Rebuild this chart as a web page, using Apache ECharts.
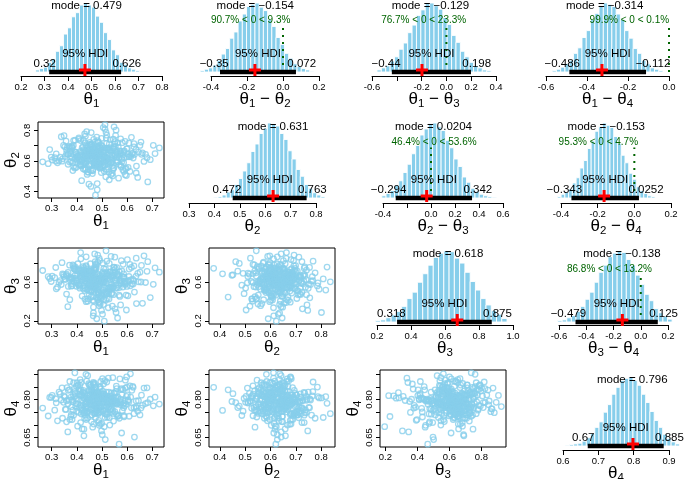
<!DOCTYPE html>
<html><head><meta charset="utf-8">
<script src="https://cdn.jsdelivr.net/npm/echarts@6/dist/echarts.min.js"></script>
<style>html,body{margin:0;padding:0;background:#fff}#c{width:685px;height:479px}</style>
</head><body><div id="c"></div>
<script>
// ---------- posterior samples (scatter panels) ----------
const theta1 = [0.452,0.518,0.391,0.476,0.563,0.437,0.502,0.611,0.468,0.349,0.489,0.531,
0.414,0.577,0.459,0.383,0.506,0.642,0.471,0.428,0.545,0.497,0.366,0.483,
0.521,0.445,0.598,0.403,0.474,0.556,0.312,0.491,0.437,0.629,0.462,0.508,
0.387,0.539,0.466,0.574,0.421,0.499,0.682,0.448,0.357,0.515,0.472,0.593,
0.433,0.487,0.551,0.298,0.463,0.526,0.409,0.617,0.479,0.376,0.542,0.455,
0.501,0.418,0.568,0.484,0.341,0.533,0.446,0.661,0.392,0.512,0.469,0.587,
0.427,0.495,0.604,0.458,0.371,0.524,0.481,0.439,0.552,0.286,0.507,0.463,
0.548,0.401,0.476,0.636,0.442,0.517,0.365,0.493,0.578,0.425,0.704,0.468,
0.511,0.396,0.457,0.562,0.487,0.334,0.529,0.443,0.607,0.472,0.415,0.538,
0.461,0.583,0.378,0.502,0.449,0.655,0.421,0.494,0.547,0.318,0.476,0.519,
0.406,0.565,0.484,0.438,0.592,0.359,0.513,0.467,0.536,0.412,0.728,0.489,
0.453,0.522,0.384,0.571,0.496,0.431,0.619,0.477,0.352,0.509,0.448,0.557,
0.264,0.482,0.539,0.418,0.601,0.466,0.395,0.528,0.459,0.673,0.436,0.505,
0.574,0.441,0.493,0.369,0.546,0.472,0.627,0.404,0.515,0.458,0.329,0.498,
0.534,0.426,0.588,0.479,0.387,0.552,0.444,0.509,0.645,0.416,0.486,0.561,
0.399,0.474,0.527,0.302,0.491,0.569,0.451,0.413,0.596,0.469,0.538,0.382,
0.503,0.456,0.614,0.428,0.541,0.361,0.487,0.579,0.434,0.692,0.471,0.516,
0.447,0.558,0.393,0.488,0.622,0.419,0.531,0.465,0.347,0.505,0.584,0.439,
0.475,0.372,0.543,0.491,0.608,0.424,0.518,0.456,0.667,0.381,0.497,0.553,
0.432,0.586,0.463,0.525,0.408,0.481,0.635,0.449,0.316,0.512,0.571,0.468,
0.488,0.431,0.553,0.467,0.392,0.521,0.446,0.599,0.473,0.508,0.359,0.536,
0.462,0.419,0.574,0.495,0.438,0.627,0.481,0.403,0.547,0.456,0.514,0.377,
0.529,0.471,0.412,0.589,0.443,0.501,0.338,0.559,0.484,0.427,0.651,0.466,
0.397,0.543,0.478,0.516,0.429,0.603,0.455,0.372,0.532,0.489,0.447,0.581,
0.507,0.434,0.566,0.292,0.476,0.523,0.415,0.498,0.637,0.452,0.389,0.545,
0.469,0.527,0.421,0.592,0.483,0.354,0.511,0.441,0.562,0.496,0.408,0.679,
0.458,0.537,0.386,0.474,0.613,0.432,0.519,0.464,0.548,0.323,0.492,0.437,
0.576,0.449,0.504,0.417,0.558,0.481,0.364,0.533,0.471,0.624,0.426,0.512,
0.445,0.587,0.491,0.398,0.526,0.463,0.343,0.554,0.478,0.711,0.436,0.502,
0.569,0.411,0.485,0.541,0.454,0.379,0.597,0.467,0.518,0.425,0.483,0.657];
const theta2 = [0.612,0.684,0.553,0.641,0.718,0.597,0.659,0.531,0.628,0.765,0.603,0.672,
0.574,0.651,0.707,0.589,0.636,0.492,0.667,0.618,0.742,0.562,0.645,0.693,
0.608,0.526,0.679,0.633,0.586,0.801,0.621,0.556,0.699,0.642,0.517,0.664,
0.733,0.594,0.648,0.571,0.687,0.614,0.463,0.656,0.729,0.601,0.632,0.547,
0.668,0.583,0.712,0.625,0.539,0.676,0.609,0.754,0.591,0.647,0.502,0.637,
0.697,0.566,0.621,0.683,0.598,0.738,0.544,0.653,0.612,0.836,0.575,0.661,
0.629,0.704,0.558,0.644,0.593,0.677,0.411,0.617,0.726,0.582,0.649,0.535,
0.688,0.604,0.657,0.521,0.632,0.749,0.578,0.669,0.613,0.548,0.702,0.639,
0.571,0.654,0.785,0.596,0.678,0.624,0.477,0.642,0.716,0.587,0.663,0.609,
0.658,0.542,0.694,0.631,0.567,0.723,0.605,0.681,0.554,0.646,0.598,0.768,
0.616,0.689,0.573,0.652,0.509,0.671,0.627,0.741,0.589,0.636,0.685,0.561,
0.703,0.619,0.537,0.666,0.602,0.776,0.648,0.581,0.692,0.623,0.448,0.655,
0.594,0.732,0.638,0.569,0.681,0.611,0.657,0.528,0.706,0.643,0.584,0.818,
0.662,0.607,0.551,0.695,0.634,0.579,0.713,0.626,0.496,0.668,0.601,0.747,
0.586,0.673,0.619,0.755,0.563,0.644,0.698,0.532,0.657,0.612,0.724,0.593,
0.645,0.376,0.684,0.606,0.662,0.576,0.721,0.635,0.552,0.679,0.617,0.694,
0.571,0.708,0.628,0.659,0.519,0.687,0.642,0.595,0.762,0.608,0.653,0.544,
0.676,0.623,0.735,0.582,0.649,0.471,0.667,0.613,0.701,0.558,0.639,0.792,
0.601,0.664,0.543,0.691,0.627,0.574,0.715,0.651,0.597,0.683,0.524,0.636,
0.718,0.589,0.656,0.612,0.742,0.567,0.674,0.631,0.599,0.808,0.646,0.585,
0.634,0.581,0.697,0.612,0.659,0.546,0.673,0.627,0.724,0.593,0.648,0.511,
0.667,0.603,0.744,0.585,0.639,0.692,0.561,0.619,0.682,0.433,0.656,0.598,
0.711,0.642,0.576,0.665,0.529,0.627,0.758,0.604,0.653,0.587,0.701,0.636,
0.557,0.679,0.614,0.787,0.592,0.645,0.538,0.688,0.623,0.662,0.574,0.719,
0.608,0.651,0.487,0.674,0.632,0.589,0.733,0.617,0.566,0.695,0.641,0.553,
0.684,0.596,0.658,0.728,0.573,0.629,0.672,0.512,0.646,0.605,0.751,0.621,
0.579,0.663,0.701,0.594,0.637,0.543,0.678,0.616,0.823,0.588,0.654,0.627,
0.562,0.709,0.631,0.598,0.668,0.452,0.642,0.687,0.577,0.619,0.736,0.604,
0.655,0.531,0.691,0.626,0.583,0.671,0.614,0.767,0.596,0.648,0.549,0.682,
0.639,0.601,0.719,0.567,0.658,0.623,0.504,0.676,0.611,0.694,0.586,0.643];
const theta3 = [0.612,0.487,0.735,0.563,0.671,0.398,0.624,0.784,0.541,0.658,0.452,0.706,
0.579,0.823,0.513,0.645,0.369,0.692,0.597,0.748,0.471,0.633,0.556,0.881,
0.664,0.427,0.601,0.719,0.532,0.286,0.647,0.587,0.771,0.498,0.683,0.618,
0.745,0.556,0.341,0.629,0.697,0.474,0.812,0.593,0.668,0.412,0.726,0.575,
0.638,0.523,0.859,0.607,0.449,0.676,0.568,0.753,0.221,0.652,0.539,0.712,
0.587,0.694,0.465,0.621,0.802,0.547,0.663,0.381,0.737,0.604,0.516,0.649,
0.728,0.431,0.615,0.569,0.776,0.508,0.687,0.633,0.324,0.658,0.741,0.554,
0.672,0.593,0.487,0.849,0.628,0.536,0.701,0.443,0.611,0.762,0.578,0.405,
0.641,0.722,0.561,0.684,0.393,0.617,0.794,0.524,0.659,0.582,0.907,0.478,
0.695,0.549,0.637,0.268,0.711,0.602,0.456,0.669,0.753,0.531,0.625,0.818,
0.573,0.661,0.418,0.738,0.594,0.683,0.502,0.626,0.867,0.557,0.704,0.357,
0.648,0.527,0.779,0.613,0.462,0.697,0.583,0.742,0.635,0.196,0.672,0.544,
0.721,0.608,0.489,0.656,0.834,0.571,0.639,0.426,0.714,0.597,0.761,0.518,
0.586,0.679,0.374,0.644,0.725,0.553,0.617,0.791,0.481,0.665,0.598,0.307,
0.703,0.562,0.651,0.438,0.768,0.627,0.534,0.689,0.604,0.842,0.496,0.678,
0.615,0.744,0.541,0.663,0.389,0.708,0.589,0.653,0.467,0.731,0.576,0.638,
0.797,0.506,0.624,0.691,0.352,0.667,0.558,0.716,0.611,0.441,0.684,0.925,
0.568,0.642,0.759,0.493,0.631,0.714,0.547,0.252,0.676,0.603,0.785,0.528,
0.657,0.419,0.698,0.581,0.736,0.622,0.476,0.649,0.873,0.564,0.609,0.702,
0.539,0.687,0.607,0.335,0.724,0.592,0.661,0.511,0.752,0.634,0.453,0.671,
0.627,0.514,0.743,0.589,0.668,0.432,0.701,0.556,0.812,0.603,0.477,0.659,
0.571,0.726,0.364,0.641,0.594,0.768,0.528,0.682,0.617,0.446,0.735,0.559,
0.662,0.893,0.538,0.611,0.403,0.689,0.576,0.751,0.497,0.633,0.704,0.282,
0.615,0.547,0.779,0.592,0.671,0.459,0.718,0.624,0.533,0.846,0.587,0.652,
0.416,0.697,0.569,0.638,0.762,0.505,0.681,0.599,0.378,0.724,0.613,0.552,
0.741,0.486,0.658,0.583,0.807,0.627,0.541,0.694,0.229,0.646,0.578,0.713,
0.519,0.672,0.604,0.786,0.563,0.425,0.688,0.634,0.757,0.548,0.619,0.863,
0.592,0.469,0.707,0.651,0.537,0.676,0.346,0.628,0.733,0.581,0.664,0.491,
0.709,0.597,0.824,0.558,0.643,0.412,0.685,0.616,0.526,0.749,0.603,0.667,
0.544,0.728,0.473,0.639,0.791,0.585,0.312,0.656,0.698,0.534,0.622,0.774];
const theta4 = [0.795,0.742,0.831,0.768,0.809,0.721,0.787,0.854,0.763,0.814,0.698,0.801,
0.776,0.843,0.739,0.792,0.861,0.754,0.818,0.683,0.797,0.771,0.836,0.748,
0.813,0.765,0.889,0.782,0.729,0.806,0.758,0.847,0.791,0.652,0.824,0.774,
0.738,0.802,0.867,0.779,0.817,0.706,0.788,0.833,0.761,0.799,0.745,0.876,
0.784,0.827,0.752,0.808,0.691,0.796,0.842,0.767,0.815,0.733,0.789,0.858,
0.772,0.819,0.624,0.793,0.846,0.759,0.804,0.777,0.905,0.744,0.811,0.785,
0.826,0.751,0.798,0.713,0.839,0.781,0.757,0.872,0.796,0.735,0.821,0.769,
0.807,0.866,0.762,0.794,0.727,0.829,0.783,0.851,0.668,0.812,0.775,0.838,
0.756,0.803,0.849,0.786,0.718,0.822,0.774,0.894,0.791,0.747,0.816,0.764,
0.834,0.779,0.741,0.805,0.857,0.766,0.797,0.703,0.825,0.787,0.753,0.869,
0.798,0.736,0.823,0.771,0.845,0.795,0.642,0.812,0.763,0.832,0.782,0.749,
0.817,0.788,0.758,0.881,0.801,0.726,0.836,0.778,0.809,0.693,0.792,0.853,
0.766,0.828,0.794,0.743,0.818,0.862,0.773,0.806,0.739,0.784,0.899,0.811,
0.789,0.752,0.841,0.797,0.715,0.824,0.768,0.857,0.804,0.761,0.829,0.676,
0.813,0.776,0.732,0.802,0.866,0.787,0.748,0.821,0.795,0.837,0.709,0.783,
0.753,0.848,0.791,0.816,0.769,0.726,0.807,0.878,0.781,0.745,0.826,0.799,
0.833,0.764,0.809,0.657,0.792,0.847,0.775,0.819,0.738,0.801,0.863,0.772,
0.796,0.741,0.825,0.784,0.852,0.768,0.699,0.814,0.789,0.756,0.839,0.806,
0.778,0.871,0.757,0.803,0.734,0.829,0.793,0.762,0.845,0.721,0.811,0.786,
0.822,0.767,0.797,0.884,0.749,0.815,0.771,0.838,0.803,0.729,0.794,0.857,
0.791,0.753,0.824,0.776,0.812,0.731,0.797,0.849,0.768,0.804,0.712,0.786,
0.833,0.759,0.801,0.871,0.782,0.744,0.819,0.695,0.793,0.838,0.765,0.809,
0.728,0.789,0.856,0.774,0.815,0.661,0.798,0.843,0.757,0.806,0.739,0.827,
0.784,0.886,0.763,0.811,0.748,0.795,0.834,0.721,0.802,0.779,0.862,0.756,
0.817,0.772,0.737,0.808,0.851,0.787,0.709,0.823,0.766,0.799,0.841,0.745,
0.783,0.829,0.684,0.796,0.814,0.761,0.874,0.788,0.733,0.807,0.769,0.846,
0.792,0.751,0.818,0.777,0.901,0.803,0.741,0.826,0.785,0.716,0.811,0.764,
0.839,0.794,0.758,0.867,0.781,0.823,0.672,0.805,0.772,0.848,0.747,0.797,
0.814,0.736,0.789,0.853,0.767,0.802,0.726,0.831,0.778,0.809,0.754,0.882,
0.786,0.821,0.743,0.799,0.858,0.771,0.812,0.703,0.794,0.836,0.762,0.817];

// ---------- histogram bin heights ----------
const t1Counts  = [3,5,7,14,19,30,38,55,64,80,86,97,100,97,94,81,72,57,47,32,25,14,11,6,4,2,1,1];
const d12Counts = [2,4,6,10,17,26,34,49,58,74,84,95,98,100,94,89,76,66,50,40,27,20,12,8,5,3,1];
const d13Counts = [3,6,9,16,22,33,42,57,68,82,90,99,100,96,91,79,69,53,43,30,22,14,9,6,3,2];
const d14Counts = [2,4,7,12,17,27,35,50,60,76,85,96,100,98,95,84,76,60,49,34,27,17,12,6,4,2];
const t2Counts  = [1,2,4,8,11,18,26,36,47,62,72,86,93,100,98,96,86,78,63,52,38,29,18,13,7,4,2];
const d23Counts = [3,6,10,17,23,34,45,59,70,84,92,99,100,95,90,77,67,52,42,28,21,13,9,5,3,2,1];
const d24Counts = [2,5,8,12,20,27,40,50,66,76,89,95,100,97,94,82,73,57,47,33,25,15,10,6,3,2];
const t3Counts  = [2,3,6,10,15,22,33,42,56,68,80,91,97,100,99,90,83,70,57,45,33,24,16,11,5];
const d34Counts = [2,3,6,9,15,22,32,42,56,70,80,92,97,100,98,88,80,66,53,39,30,19,13,8,4];
const t4Counts  = [1,2,3,4,7,12,18,27,35,49,60,75,85,95,98,100,95,88,75,63,50,37,27,17,11,6,3];
const histCounts = [t1Counts,d12Counts,d13Counts,d14Counts,t2Counts,d23Counts,d24Counts,t3Counts,d34Counts,t4Counts];
const binStart = [0.262,-0.46,-0.56,-0.57,0.398,-0.41,-0.42,0.19,-0.61,0.606];
const binWidth = [0.017,0.0234,0.0354,0.0208,0.0162,0.0353,0.0205,0.031,0.0336,0.012];
const histVars = [[1],[1,2],[1,3],[1,4],[2],[2,3],[2,4],[3],[3,4],[4]];
const modeVals = [0.479,-0.154,-0.129,-0.314,0.631,0.0204,-0.153,0.618,-0.138,0.796];
const hdiLow  = [0.32,-0.35,-0.44,-0.486,0.472,-0.294,-0.343,0.318,-0.479,0.67];
const hdiHigh = [0.626,0.072,0.198,-0.112,0.763,0.342,0.0252,0.875,0.125,0.885];
const crossVals = [0.472,-0.156,-0.197,-0.327,0.631,-0.036,-0.165,0.672,-0.135,0.798];
const pctBelowZero = [null,90.7,76.7,99.9,null,46.4,95.3,null,86.8,null];
const histTicks = [[0.2,0.3,0.4,0.5,0.6,0.7,0.8],[-0.4,-0.2,0,0.2],[-0.6,-0.4,-0.2,0,0.2,0.4],[-0.6,-0.4,-0.2,0],
  [0.3,0.4,0.5,0.6,0.7,0.8],[-0.4,-0.2,0,0.2,0.4,0.6],[-0.4,-0.2,0,0.2],[0.2,0.4,0.6,0.8,1.0],[-0.6,-0.4,-0.2,0,0.2],[0.6,0.7,0.8,0.9]];
const histTickLabels = [[0.2,0.3,0.4,0.5,0.6,0.7,0.8],[-0.4,-0.2,0,0.2],[-0.6,-0.2,0,0.2,0.4],[-0.6,-0.4,-0.2,0],
  [0.3,0.4,0.5,0.6,0.7,0.8],[-0.4,0,0.2,0.4,0.6],[-0.4,-0.2,0,0.2],[0.2,0.4,0.6,0.8,1.0],[-0.6,-0.4,-0.2,0,0.2],[0.6,0.7,0.8,0.9]];

// scatter axis ticks per parameter
const scatTicksX = {1:[0.3,0.4,0.5,0.6,0.7], 2:[0.4,0.5,0.6,0.7,0.8], 3:[0.2,0.4,0.6,0.8]};
const scatTicksY = {2:[0.4,0.5,0.6,0.7,0.8], 3:[0.2,0.4,0.6,0.8], 4:[0.65,0.70,0.75,0.80,0.85,0.90]};
const scatLabelsY = {2:[0.4,0.6,0.8], 3:[0.2,0.6], 4:[0.65,0.80]};

// ---------- layout (pixels) ----------
// [x of first tick, x of last tick, axis line y, zero line y, peak y]
const histLayout = [[21,162,76,72,3],[211,319,76,72,3],[372,496,76,72,3],[546,669,76,72,3],
  [189,316,203,198,123],[383,503,203,198,123],[561,671,203,198,123],
  [377,513,325,322,251],[559,668,325,322,251],[563,669,450,446,377]];
const scatCols = {1:[38,164],2:[209,335],3:[380,506]};
const scatRows = {2:[122,198],3:[248,324],4:[370,447]};
const samples = {1:theta1,2:theta2,3:theta3,4:theta4};

const FONT = '"Liberation Sans", Arial, Helvetica, sans-serif';
const SKY = '#87CEEB', DKGREEN = '#006400';
const ANN = 11.5, TICK = 9.5;
const mctx = document.createElement('canvas').getContext('2d');
function tw(s, size){ mctx.font = size + 'px ' + FONT; return mctx.measureText(s).width; }
function fmtNum(v){ return String(v).replace('-', '\u2212'); }
function fmtTick(v, d){ if (Math.abs(v) < 1e-9) v = 0; return v.toFixed(d); }
const nameRich = {
  t:{fontSize:17, fontFamily:FONT, color:'#000'},
  s:{fontSize:11.5, fontFamily:FONT, color:'#000', padding:[10,0,0,0]}
};
function thName(v){ return v.length === 1 ? `{t|θ}{s|${v[0]}}` : `{t|θ}{s|${v[0]}}{t| \u2212 θ}{s|${v[1]}}`; }

function txt(x, yBase, s, size, adj, color){
  const w = tw(s, size);
  return {type:'text', x: x - adj*w, y: yBase + 0.17*size,
    style:{text:s, fontSize:size, fontFamily:FONT, fill:color, align:'left', verticalAlign:'bottom'}};
}

const grids = [], xAxes = [], yAxes = [], series = [];

histCounts.forEach((counts, k) => {
  const [x0, x1, ax, zy, pk] = histLayout[k];
  const g = grids.length;
  const peak = Math.max(...counts);
  const ticks = histTicks[k];
  grids.push({left:x0, top:pk, width:x1-x0, height:ax-pk, outerBoundsMode:'none'});
  xAxes.push({gridIndex:g, type:'value', min:ticks[0], max:ticks[ticks.length-1],
    axisLine:{show:true, onZero:false, lineStyle:{color:'#000', width:1}},
    axisTick:{show:true, length:5, customValues:ticks, lineStyle:{color:'#000'}},
    axisLabel:{customValues:histTickLabels[k], formatter:v=>fmtTick(v,1), fontSize:TICK, margin:6, color:'#000', fontFamily:FONT},
    splitLine:{show:false}, name:thName(histVars[k]), nameLocation:'middle', nameGap:12,
    nameMoveOverlap:false, nameTextStyle:{rich:nameRich}});
  yAxes.push({gridIndex:g, type:'value', show:false, min:-peak*(ax-zy)/(zy-pk), max:peak, splitLine:{show:false}});
  const bins = counts.map((c, i) => [binStart[k] + i*binWidth[k], binStart[k] + (i+1)*binWidth[k], c]);
  series.push({type:'custom', xAxisIndex:g, yAxisIndex:g, clip:false, silent:true, data:bins,
    encode:{x:[0,1], y:2},
    renderItem:(params, api) => {
      const p0 = api.coord([api.value(0), api.value(2)]);
      const p1 = api.coord([api.value(1), 0]);
      return {type:'rect', shape:{x:p0[0], y:p0[1], width:p1[0]-p0[0], height:p1[1]-p0[1]},
        style:{fill:SKY, stroke:'#fff', lineWidth:0.9}};
    }});
  series.push({type:'custom', xAxisIndex:g, yAxisIndex:g, clip:false, silent:true, data:[[0,0]],
    encode:{x:0, y:1}, z:5,
    renderItem:(params, api) => {
      const P = (x, y) => api.coord([x, y]);
      const ch = [];
      const a = P(hdiLow[k], 0), b = P(hdiHigh[k], 0);
      if (pctBelowZero[k] != null) {
        const c0 = P(0, 0), c1 = P(0, 0.672*peak), ct = P(0, 0.7*peak);
        ch.push({type:'line', shape:{x1:c0[0], y1:c0[1], x2:c1[0], y2:c1[1]},
          style:{stroke:DKGREEN, lineWidth:2, lineDash:[2,5]}});
        const p = pctBelowZero[k];
        ch.push(txt(ct[0], ct[1], `${p.toFixed(1)}% < 0 < ${(100-p).toFixed(1)}%`, 10, p/100, DKGREEN));
      }
      ch.push({type:'line', shape:{x1:a[0], y1:a[1], x2:b[0], y2:b[1]}, style:{stroke:'#000', lineWidth:4.5, lineCap:'butt'}});
      const m = P((hdiLow[k]+hdiHigh[k])/2, 0);
      ch.push(txt(m[0], m[1]-14.5, '95% HDI', ANN, 0.5, '#000'));
      ch.push(txt(a[0], a[1]-4.5, fmtNum(hdiLow[k]), ANN, 0.7, '#000'));
      ch.push(txt(b[0], b[1]-4.5, fmtNum(hdiHigh[k]), ANN, 0.3, '#000'));
      const mo = P(modeVals[k], 0.9*peak);
      ch.push(txt(mo[0], mo[1], 'mode = ' + fmtNum(modeVals[k]), ANN, 0.5, '#000'));
      const cr = P(crossVals[k], 0);
      const cy = cr[1] - 2;
      ch.push({type:'line', shape:{x1:cr[0]-6, y1:cy, x2:cr[0]+6, y2:cy}, style:{stroke:'#ff0000', lineWidth:3}});
      ch.push({type:'line', shape:{x1:cr[0], y1:cy-6, x2:cr[0], y2:cy+6}, style:{stroke:'#ff0000', lineWidth:3}});
      return {type:'group', children:ch};
    }});
});

// scatter panels: [x parameter, y parameter]
const scatPairs = [[1,2],[1,3],[2,3],[1,4],[2,4],[3,4]];
const ext = v => ({min: v.min - 0.04*(v.max - v.min), max: v.max + 0.04*(v.max - v.min)});
scatPairs.forEach(([vx, vy]) => {
  const g = grids.length;
  const [l, r] = scatCols[vx], [t, bt] = scatRows[vy];
  grids.push({left:l, top:t, width:r-l, height:bt-t, show:true, borderColor:'#000', borderWidth:1,
    backgroundColor:'rgba(0,0,0,0)', outerBoundsMode:'none'});
  xAxes.push({gridIndex:g, type:'value', min:v=>ext(v).min, max:v=>ext(v).max,
    axisLine:{show:false, onZero:false},
    axisTick:{show:true, length:4, customValues:scatTicksX[vx], lineStyle:{color:'#000'}},
    axisLabel:{customValues:scatTicksX[vx], formatter:v=>fmtTick(v,1), fontSize:TICK, margin:5, color:'#000', fontFamily:FONT},
    splitLine:{show:false}, name:thName([vx]), nameLocation:'middle', nameGap:12,
    nameMoveOverlap:false, nameTextStyle:{rich:nameRich}});
  yAxes.push({gridIndex:g, type:'value', min:v=>ext(v).min, max:v=>ext(v).max,
    axisLine:{show:false, onZero:false},
    axisTick:{show:true, length:4, customValues:scatTicksY[vy], lineStyle:{color:'#000'}},
    axisLabel:{customValues:scatLabelsY[vy], formatter:v=>fmtTick(v, vy===4?2:1), rotate:90, fontSize:TICK, margin:6, color:'#000', fontFamily:FONT},
    splitLine:{show:false}, name:thName([vy]), nameLocation:'middle', nameRotate:90, nameGap:16,
    nameMoveOverlap:false, nameTextStyle:{rich:nameRich}});
  const xs = samples[vx], ys = samples[vy];
  series.push({type:'scatter', xAxisIndex:g, yAxisIndex:g, silent:true, symbol:'circle', symbolSize:5.5,
    itemStyle:{color:'rgba(0,0,0,0)', borderColor:SKY, borderWidth:1.3},
    data: xs.map((x, i) => [x, ys[i]])});
});

const chart = echarts.init(document.getElementById('c'), null, {renderer:'canvas', width:685, height:479});
chart.setOption({backgroundColor:'#fff', animation:false, grid:grids, xAxis:xAxes, yAxis:yAxes, series:series});
</script></body></html>
